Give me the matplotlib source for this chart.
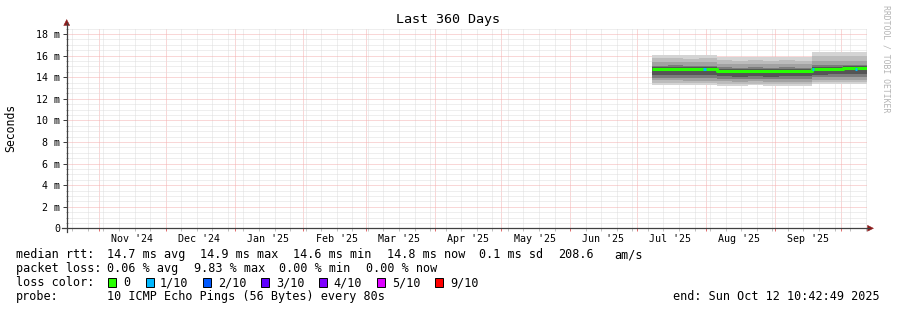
import matplotlib
matplotlib.use("Agg")
import matplotlib.pyplot as plt
import matplotlib.dates as mdates
from matplotlib.lines import Line2D
from matplotlib.patches import Rectangle, Polygon
from datetime import datetime, timedelta
import numpy as np

# ---------------- data ----------------
start = datetime(2024, 10, 17, 10, 42, 49)
end = datetime(2025, 10, 12, 10, 42, 49)

edges = ["2025-07-08", "2025-07-15", "2025-07-22", "2025-07-29", "2025-08-06",
         "2025-08-13", "2025-08-20", "2025-08-27", "2025-09-03", "2025-09-10",
         "2025-09-18", "2025-09-25", "2025-10-02", "2025-10-12 10:42:49"]

median = [14.76, 14.78, 14.74, 14.72, 14.60, 14.58, 14.60, 14.56, 14.58, 14.57, 14.80, 14.79, 14.81]

ping10 = [16.04, 16.07, 16.02, 16.05, 15.87, 15.84, 15.88, 15.85, 15.87, 15.86, 16.30, 16.34, 16.32]
ping9 = [15.75, 15.78, 15.72, 15.74, 15.55, 15.52, 15.56, 15.53, 15.55, 15.54, 15.95, 15.98, 15.96]
ping8 = [15.38, 15.40, 15.36, 15.38, 15.20, 15.18, 15.21, 15.19, 15.20, 15.20, 15.50, 15.53, 15.52]
ping7 = [15.08, 15.10, 15.06, 15.07, 14.90, 14.88, 14.91, 14.88, 14.90, 14.89, 15.15, 15.17, 15.16]
ping6 = [14.95, 14.96, 14.93, 14.93, 14.76, 14.74, 14.77, 14.73, 14.75, 14.74, 14.97, 14.98, 14.99]
ping5 = [14.22, 14.24, 14.20, 14.21, 14.08, 14.06, 14.09, 14.05, 14.07, 14.07, 14.24, 14.26, 14.25]
ping4 = [13.95, 13.97, 13.93, 13.94, 13.84, 13.82, 13.85, 13.81, 13.83, 13.83, 14.00, 14.02, 14.01]
ping3 = [13.70, 13.72, 13.68, 13.69, 13.60, 13.58, 13.61, 13.57, 13.59, 13.59, 13.74, 13.76, 13.75]
ping2 = [13.48, 13.50, 13.46, 13.47, 13.40, 13.38, 13.41, 13.37, 13.39, 13.39, 13.52, 13.54, 13.53]
ping1 = [13.28, 13.30, 13.26, 13.27, 13.22, 13.20, 13.23, 13.19, 13.21, 13.21, 13.33, 13.35, 13.34]

loss_event_dates = ["2025-07-31", "2025-09-17 20:00", "2025-10-07"]
loss_event_values = [14.74, 14.78, 14.80]

month_labels = ["Nov '24", "Dec '24", "Jan '25", "Feb '25", "Mar '25", "Apr '25",
                "May '25", "Jun '25", "Jul '25", "Aug '25", "Sep '25"]
month_label_dates = ["2024-11-16", "2024-12-16", "2025-01-16", "2025-02-16", "2025-03-16",
                     "2025-04-16", "2025-05-16", "2025-06-16", "2025-07-16", "2025-08-16",
                     "2025-09-16"]

ytick_values = [0, 2, 4, 6, 8, 10, 12, 14, 16, 18]
ytick_labels = ["0", "2 m", "4 m", "6 m", "8 m", "10 m", "12 m", "14 m", "16 m", "18 m"]

loss_names = ["0", "1/10", "2/10", "3/10", "4/10", "5/10", "9/10"]
loss_colors = ["#26ff00", "#00b8ff", "#0059ff", "#5e00ff", "#7e00ff", "#dd00ff", "#ff0000"]

# ---------------- layout ----------------
W, H = 897, 310
MONO = "DejaVu Sans Mono"


def fx(x):
    return x / W


def fy(y):
    return 1 - y / H


fig = plt.figure(figsize=(W / 100, H / 100), dpi=100)
fig.patch.set_facecolor("white")

x0, xr, y0, ytop = 66.7, 866.7, 228.3, 28.3
ax = fig.add_axes([fx(x0), fy(y0), (xr - x0) / W, (y0 - ytop) / H])
ax.set_facecolor("white")
px_per_m = (228.3 - 34.0) / 18.0
ax.set_xlim(start, end)
ax.set_ylim(0, (y0 - ytop) / px_per_m)

for s in ax.spines.values():
    s.set_visible(False)

# grid
ax.xaxis.set_major_locator(mdates.MonthLocator(bymonthday=1))
ax.xaxis.set_minor_locator(mdates.WeekdayLocator(byweekday=mdates.SU))
ax.set_yticks(ytick_values)
ax.set_yticks(np.arange(0, 18.6, 0.5), minor=True)
ax.set_yticklabels(ytick_labels, family=MONO, fontsize=7.2)
ax.set_xticklabels([])
ax.xaxis.set_minor_formatter(plt.NullFormatter())

dot = (0, (1, 1))
ax.grid(which="minor", color="#dedede", linestyle=dot, linewidth=0.72, zorder=0)
ax.grid(which="major", color="#f4b0b0", linestyle=dot, linewidth=0.72, zorder=0)
ax.set_axisbelow(True)

ax.tick_params(axis="x", which="major", length=2.2, width=0.72, color="#e07070", direction="out")
ax.tick_params(axis="x", which="minor", length=2.2, width=0.72, color="#c0c0c0", direction="out")
ax.tick_params(axis="y", which="major", length=3.1, width=0.72, color="#404040", pad=1.7, labelcolor="black")
ax.tick_params(axis="y", which="minor", length=1.4, width=0.72, color="#a0a0a0", direction="inout")

# smoke
xs = mdates.date2num([datetime.fromisoformat(e) for e in edges])


def ext(v):
    return list(v) + [v[-1]]


layers = [(ping1, ping10, "#d4d4d4"), (ping2, ping9, "#bcbcbc"), (ping3, ping8, "#a2a2a2"),
          (ping4, ping7, "#7c7c7c"), (ping5, ping6, "#555555")]
for lo, hi, c in layers:
    ax.fill_between(xs, ext(lo), ext(hi), step="post", color=c, linewidth=0, zorder=2)

ax.step(xs, ext(median), where="post", color=loss_colors[0], linewidth=2.2, zorder=3,
        solid_capstyle="butt")
for d, v in zip(loss_event_dates, loss_event_values):
    dd = datetime.fromisoformat(d)
    ax.plot([dd, dd + timedelta(days=1)], [v, v], color=loss_colors[1], linewidth=2.2,
            zorder=4, solid_capstyle="butt")

# month labels
for lab, d in zip(month_labels, month_label_dates):
    ax.text(datetime.fromisoformat(d), (y0 - 241.7) / (y0 - ytop), lab,
            transform=ax.get_xaxis_transform(), ha="center", va="baseline",
            family=MONO, fontsize=7.2, color="black")

# axis lines with arrows
axis_col = "#404040"
arrow_col = "#8b1a1a"
fig.add_artist(Line2D([fx(62), fx(869)], [fy(y0), fy(y0)], color=axis_col, linewidth=0.9))
fig.add_artist(Line2D([fx(x0), fx(x0)], [fy(232), fy(23)], color=axis_col, linewidth=0.9))
fig.add_artist(Polygon([(fx(867.5), fy(y0 - 3)), (fx(873.5), fy(y0)), (fx(867.5), fy(y0 + 3))],
                       closed=True, facecolor=arrow_col, edgecolor=arrow_col, linewidth=0.3,
                       transform=fig.transFigure))
fig.add_artist(Polygon([(fx(x0 - 3), fy(25.5)), (fx(x0), fy(19.5)), (fx(x0 + 3), fy(25.5))],
                       closed=True, facecolor=arrow_col, edgecolor=arrow_col, linewidth=0.3,
                       transform=fig.transFigure))

# title, axis label, watermark
fig.text(fx(448), fy(23.5), "Last 360 Days", ha="center", va="baseline",
         family=MONO, fontsize=9.6, color="black")
fig.text(fx(11), fy(128), "Seconds", rotation=90, ha="center", va="center",
         family=MONO, fontsize=8.3, color="black")
fig.text(fx(886), fy(5), "RRDTOOL / TOBI OETIKER", rotation=270, ha="center", va="top",
         family=MONO, fontsize=5.9, color="#b4b4b4")

# legend
FS = 8.5


def t(x, y, s, **kw):
    fig.text(fx(x), fy(y), s, ha=kw.pop("ha", "left"), va="baseline", family=MONO,
             fontsize=FS, color="black", **kw)


b1, b2, b3, b4 = 258.3, 272.2, 286.2, 300.1
t(16, b1, "median rtt:")
t(107, b1, "14.7 ms avg")
t(200, b1, "14.9 ms max")
t(293, b1, "14.6 ms min")
t(387, b1, "14.8 ms now")
t(479, b1, "0.1 ms sd")
t(558, b1, "208.6")
t(614, b1, "am/s")

t(16, b2, "packet loss:")
t(107, b2, "0.06 % avg")
t(194, b2, "9.83 % max")
t(279, b2, "0.00 % min")
t(366, b2, "0.00 % now")

t(16, b3, "loss color:")
box_x = [108, 146, 203, 261, 319, 377, 435]
txt_x = [123, 160, 218, 276, 333, 392, 450]
for bx, tx_, name, col in zip(box_x, txt_x, loss_names, loss_colors):
    fig.add_artist(Rectangle((fx(bx), fy(286.7)), 8.3 / W, 8.3 / H, transform=fig.transFigure,
                             facecolor=col, edgecolor="black", linewidth=0.7))
    t(tx_, b3, name)

t(16, b4, "probe:")
t(107, b4, "10 ICMP Echo Pings (56 Bytes) every 80s")
t(880, b4, "end: Sun Oct 12 10:42:49 2025", ha="right")

fig.savefig("out.png", dpi=100, facecolor="white")
